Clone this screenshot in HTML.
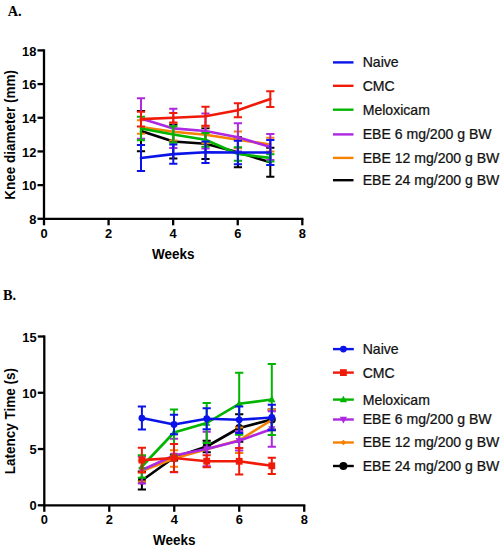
<!DOCTYPE html>
<html><head><meta charset="utf-8"><style>
html,body{margin:0;padding:0;background:#fff;width:500px;height:556px;overflow:hidden}
svg{display:block}
.tk{font-family:"Liberation Sans", sans-serif;font-weight:bold;font-size:12.9px;fill:#000}
.tt{font-family:"Liberation Sans", sans-serif;font-weight:bold;font-size:13.85px;fill:#000}
.lg{font-family:"Liberation Sans", sans-serif;font-size:14px;fill:#111;stroke:#111;stroke-width:0.25px}
.pl{font-family:"Liberation Serif", serif;font-weight:bold;font-size:14.3px;fill:#000}
</style></head><body>
<svg width="500" height="556" viewBox="0 0 500 556">
<rect width="500" height="556" fill="#fff"/>
<line x1="44" y1="49.3" x2="44" y2="219.9" stroke="#000" stroke-width="2.3"/>
<line x1="42.9" y1="218.8" x2="303.4" y2="218.8" stroke="#000" stroke-width="2.3"/>
<line x1="37.5" y1="218.8" x2="44" y2="218.8" stroke="#000" stroke-width="2.3"/>
<text x="36.4" y="223.9" text-anchor="end" class="tk">8</text>
<line x1="37.5" y1="185.12" x2="44" y2="185.12" stroke="#000" stroke-width="2.3"/>
<text x="36.4" y="190.22" text-anchor="end" class="tk">10</text>
<line x1="37.5" y1="151.44" x2="44" y2="151.44" stroke="#000" stroke-width="2.3"/>
<text x="36.4" y="156.54" text-anchor="end" class="tk">12</text>
<line x1="37.5" y1="117.76" x2="44" y2="117.76" stroke="#000" stroke-width="2.3"/>
<text x="36.4" y="122.86" text-anchor="end" class="tk">14</text>
<line x1="37.5" y1="84.08" x2="44" y2="84.08" stroke="#000" stroke-width="2.3"/>
<text x="36.4" y="89.18" text-anchor="end" class="tk">16</text>
<line x1="37.5" y1="50.4" x2="44" y2="50.4" stroke="#000" stroke-width="2.3"/>
<text x="36.4" y="55.5" text-anchor="end" class="tk">18</text>
<line x1="44" y1="218.8" x2="44" y2="225.3" stroke="#000" stroke-width="2.3"/>
<text x="44" y="237.6" text-anchor="middle" class="tk">0</text>
<line x1="108.58" y1="218.8" x2="108.58" y2="225.3" stroke="#000" stroke-width="2.3"/>
<text x="108.58" y="237.6" text-anchor="middle" class="tk">2</text>
<line x1="173.16" y1="218.8" x2="173.16" y2="225.3" stroke="#000" stroke-width="2.3"/>
<text x="173.16" y="237.6" text-anchor="middle" class="tk">4</text>
<line x1="237.74" y1="218.8" x2="237.74" y2="225.3" stroke="#000" stroke-width="2.3"/>
<text x="237.74" y="237.6" text-anchor="middle" class="tk">6</text>
<line x1="302.32" y1="218.8" x2="302.32" y2="225.3" stroke="#000" stroke-width="2.3"/>
<text x="302.32" y="237.6" text-anchor="middle" class="tk">8</text>
<text transform="translate(173.16,258.8) scale(0.975,1)" text-anchor="middle" class="tt">Weeks</text>
<text transform="translate(14.6,134.85) rotate(-90) scale(0.975,1)" text-anchor="middle" class="tt">Knee diameter (mm)</text>
<path d="M141,110.9 V151.3 M136.9,110.9 h8.2 M136.9,151.3 h8.2" stroke="#000000" stroke-width="2" fill="none"/>
<path d="M173.3,124.45 V158.55 M169.2,124.45 h8.2 M169.2,158.55 h8.2" stroke="#000000" stroke-width="2" fill="none"/>
<path d="M205.5,128.35 V159.05 M201.4,128.35 h8.2 M201.4,159.05 h8.2" stroke="#000000" stroke-width="2" fill="none"/>
<path d="M237.9,137.3 V167.3 M233.8,137.3 h8.2 M233.8,167.3 h8.2" stroke="#000000" stroke-width="2" fill="none"/>
<path d="M270.3,147.85 V176.75 M266.2,147.85 h8.2 M266.2,176.75 h8.2" stroke="#000000" stroke-width="2" fill="none"/>
<path d="M141,131.1 L173.3,141.5 L205.5,143.7 L237.9,152.3 L270.3,162.3" stroke="#000000" stroke-width="2.6" fill="none" stroke-linejoin="round" stroke-linecap="round"/>
<path d="M141,120.15 V133.85 M136.9,120.15 h8.2 M136.9,133.85 h8.2" stroke="#f58200" stroke-width="2" fill="none"/>
<path d="M173.3,123 V140.4 M169.2,123 h8.2 M169.2,140.4 h8.2" stroke="#f58200" stroke-width="2" fill="none"/>
<path d="M205.5,126.45 V143.15 M201.4,126.45 h8.2 M201.4,143.15 h8.2" stroke="#f58200" stroke-width="2" fill="none"/>
<path d="M237.9,131.4 V148.2 M233.8,131.4 h8.2 M233.8,148.2 h8.2" stroke="#f58200" stroke-width="2" fill="none"/>
<path d="M270.3,137.75 V151.45 M266.2,137.75 h8.2 M266.2,151.45 h8.2" stroke="#f58200" stroke-width="2" fill="none"/>
<path d="M141,127 L173.3,131.7 L205.5,134.8 L237.9,139.8 L270.3,144.6" stroke="#f58200" stroke-width="2.6" fill="none" stroke-linejoin="round" stroke-linecap="round"/>
<path d="M141,98.25 V138.75 M136.9,98.25 h8.2 M136.9,138.75 h8.2" stroke="#ad28e0" stroke-width="2" fill="none"/>
<path d="M173.3,108.8 V148 M169.2,108.8 h8.2 M169.2,148 h8.2" stroke="#ad28e0" stroke-width="2" fill="none"/>
<path d="M205.5,113.45 V148.55 M201.4,113.45 h8.2 M201.4,148.55 h8.2" stroke="#ad28e0" stroke-width="2" fill="none"/>
<path d="M237.9,123.2 V151.4 M233.8,123.2 h8.2 M233.8,151.4 h8.2" stroke="#ad28e0" stroke-width="2" fill="none"/>
<path d="M270.3,134.05 V159.95 M266.2,134.05 h8.2 M266.2,159.95 h8.2" stroke="#ad28e0" stroke-width="2" fill="none"/>
<path d="M141,118.5 L173.3,128.4 L205.5,131 L237.9,137.3 L270.3,147" stroke="#ad28e0" stroke-width="2.6" fill="none" stroke-linejoin="round" stroke-linecap="round"/>
<path d="M141,116.85 V140.15 M136.9,116.85 h8.2 M136.9,140.15 h8.2" stroke="#00b400" stroke-width="2" fill="none"/>
<path d="M173.3,126.25 V142.75 M169.2,126.25 h8.2 M169.2,142.75 h8.2" stroke="#00b400" stroke-width="2" fill="none"/>
<path d="M205.5,132.95 V146.65 M201.4,132.95 h8.2 M201.4,146.65 h8.2" stroke="#00b400" stroke-width="2" fill="none"/>
<path d="M237.9,147.25 V160.75 M233.8,147.25 h8.2 M233.8,160.75 h8.2" stroke="#00b400" stroke-width="2" fill="none"/>
<path d="M270.3,154.25 V161.55 M266.2,154.25 h8.2 M266.2,161.55 h8.2" stroke="#00b400" stroke-width="2" fill="none"/>
<path d="M141,128.5 L173.3,134.5 L205.5,139.8 L237.9,154 L270.3,157.9" stroke="#00b400" stroke-width="2.6" fill="none" stroke-linejoin="round" stroke-linecap="round"/>
<path d="M141,111.65 V126.55 M136.9,111.65 h8.2 M136.9,126.55 h8.2" stroke="#f01a08" stroke-width="2" fill="none"/>
<path d="M173.3,113 V122.6 M169.2,113 h8.2 M169.2,122.6 h8.2" stroke="#f01a08" stroke-width="2" fill="none"/>
<path d="M205.5,106.7 V125.7 M201.4,106.7 h8.2 M201.4,125.7 h8.2" stroke="#f01a08" stroke-width="2" fill="none"/>
<path d="M237.9,103.2 V117.2 M233.8,103.2 h8.2 M233.8,117.2 h8.2" stroke="#f01a08" stroke-width="2" fill="none"/>
<path d="M270.3,91.2 V107 M266.2,91.2 h8.2 M266.2,107 h8.2" stroke="#f01a08" stroke-width="2" fill="none"/>
<path d="M141,119.1 L173.3,117.8 L205.5,116.2 L237.9,110.2 L270.3,99.1" stroke="#f01a08" stroke-width="2.6" fill="none" stroke-linejoin="round" stroke-linecap="round"/>
<path d="M141,145 V171 M136.9,145 h8.2 M136.9,171 h8.2" stroke="#0a14e8" stroke-width="2" fill="none"/>
<path d="M173.3,144.4 V163.8 M169.2,144.4 h8.2 M169.2,163.8 h8.2" stroke="#0a14e8" stroke-width="2" fill="none"/>
<path d="M205.5,141.5 V163.1 M201.4,141.5 h8.2 M201.4,163.1 h8.2" stroke="#0a14e8" stroke-width="2" fill="none"/>
<path d="M237.9,140.7 V164.3 M233.8,140.7 h8.2 M233.8,164.3 h8.2" stroke="#0a14e8" stroke-width="2" fill="none"/>
<path d="M270.3,139.9 V165.1 M266.2,139.9 h8.2 M266.2,165.1 h8.2" stroke="#0a14e8" stroke-width="2" fill="none"/>
<path d="M141,158 L173.3,154.1 L205.5,152.3 L237.9,152.5 L270.3,152.5" stroke="#0a14e8" stroke-width="2.6" fill="none" stroke-linejoin="round" stroke-linecap="round"/>
<line x1="44.3" y1="335.4" x2="44.3" y2="506.4" stroke="#000" stroke-width="2.3"/>
<line x1="43.2" y1="505.3" x2="305.3" y2="505.3" stroke="#000" stroke-width="2.3"/>
<line x1="37.8" y1="505.3" x2="44.3" y2="505.3" stroke="#000" stroke-width="2.3"/>
<text x="36.7" y="510.4" text-anchor="end" class="tk">0</text>
<line x1="37.8" y1="449.04" x2="44.3" y2="449.04" stroke="#000" stroke-width="2.3"/>
<text x="36.7" y="454.14" text-anchor="end" class="tk">5</text>
<line x1="37.8" y1="392.77" x2="44.3" y2="392.77" stroke="#000" stroke-width="2.3"/>
<text x="36.7" y="397.87" text-anchor="end" class="tk">10</text>
<line x1="37.8" y1="336.5" x2="44.3" y2="336.5" stroke="#000" stroke-width="2.3"/>
<text x="36.7" y="341.61" text-anchor="end" class="tk">15</text>
<line x1="44.3" y1="505.3" x2="44.3" y2="511.8" stroke="#000" stroke-width="2.3"/>
<text x="44.3" y="524" text-anchor="middle" class="tk">0</text>
<line x1="109.28" y1="505.3" x2="109.28" y2="511.8" stroke="#000" stroke-width="2.3"/>
<text x="109.28" y="524" text-anchor="middle" class="tk">2</text>
<line x1="174.26" y1="505.3" x2="174.26" y2="511.8" stroke="#000" stroke-width="2.3"/>
<text x="174.26" y="524" text-anchor="middle" class="tk">4</text>
<line x1="239.24" y1="505.3" x2="239.24" y2="511.8" stroke="#000" stroke-width="2.3"/>
<text x="239.24" y="524" text-anchor="middle" class="tk">6</text>
<line x1="304.22" y1="505.3" x2="304.22" y2="511.8" stroke="#000" stroke-width="2.3"/>
<text x="304.22" y="524" text-anchor="middle" class="tk">8</text>
<text transform="translate(174.26,544.5) scale(0.975,1)" text-anchor="middle" class="tt">Weeks</text>
<text transform="translate(14.6,421.05) rotate(-90) scale(0.975,1)" text-anchor="middle" class="tt">Latency Time (s)</text>
<path d="M141.9,471.4 V489.6 M137.8,471.4 h8.2 M137.8,489.6 h8.2" stroke="#000000" stroke-width="2" fill="none"/>
<path d="M174,454.5 V460.5 M169.9,454.5 h8.2 M169.9,460.5 h8.2" stroke="#000000" stroke-width="2" fill="none"/>
<path d="M206.7,440.75 V452.25 M202.6,440.75 h8.2 M202.6,452.25 h8.2" stroke="#000000" stroke-width="2" fill="none"/>
<path d="M239.2,414.25 V441.75 M235.1,414.25 h8.2 M235.1,441.75 h8.2" stroke="#000000" stroke-width="2" fill="none"/>
<path d="M271.8,409.5 V429.5 M267.7,409.5 h8.2 M267.7,429.5 h8.2" stroke="#000000" stroke-width="2" fill="none"/>
<path d="M141.9,480.5 L174,457.5 L206.7,446.5 L239.2,428 L271.8,419.5" stroke="#000000" stroke-width="2.6" fill="none" stroke-linejoin="round" stroke-linecap="round"/>
<circle cx="141.9" cy="480.5" r="4" fill="#000000"/>
<circle cx="174" cy="457.5" r="4" fill="#000000"/>
<circle cx="206.7" cy="446.5" r="4" fill="#000000"/>
<circle cx="239.2" cy="428" r="4" fill="#000000"/>
<circle cx="271.8" cy="419.5" r="4" fill="#000000"/>
<path d="M141.9,460.6 V481.4 M137.8,460.6 h8.2 M137.8,481.4 h8.2" stroke="#f58200" stroke-width="2" fill="none"/>
<path d="M174,450.3 V466.7 M169.9,450.3 h8.2 M169.9,466.7 h8.2" stroke="#f58200" stroke-width="2" fill="none"/>
<path d="M239.2,427.5 V453.1 M235.1,427.5 h8.2 M235.1,453.1 h8.2" stroke="#f58200" stroke-width="2" fill="none"/>
<path d="M271.8,409.8 V430.2 M267.7,409.8 h8.2 M267.7,430.2 h8.2" stroke="#f58200" stroke-width="2" fill="none"/>
<path d="M141.9,471 L174,458.5 L206.7,449.2 L239.2,440.3 L271.8,420" stroke="#f58200" stroke-width="2.6" fill="none" stroke-linejoin="round" stroke-linecap="round"/>
<path d="M141.9,468.2 L144.7,471 L141.9,473.8 L139.1,471 Z" fill="#f58200"/>
<path d="M174,455.7 L176.8,458.5 L174,461.3 L171.2,458.5 Z" fill="#f58200"/>
<path d="M206.7,446.4 L209.5,449.2 L206.7,452 L203.9,449.2 Z" fill="#f58200"/>
<path d="M239.2,437.5 L242,440.3 L239.2,443.1 L236.4,440.3 Z" fill="#f58200"/>
<path d="M271.8,417.2 L274.6,420 L271.8,422.8 L269,420 Z" fill="#f58200"/>
<path d="M141.9,456.6 V483.4 M137.8,456.6 h8.2 M137.8,483.4 h8.2" stroke="#ad28e0" stroke-width="2" fill="none"/>
<path d="M174,438.7 V472.3 M169.9,438.7 h8.2 M169.9,472.3 h8.2" stroke="#ad28e0" stroke-width="2" fill="none"/>
<path d="M206.7,431.65 V466.15 M202.6,431.65 h8.2 M202.6,466.15 h8.2" stroke="#ad28e0" stroke-width="2" fill="none"/>
<path d="M239.2,430.9 V450.5 M235.1,430.9 h8.2 M235.1,450.5 h8.2" stroke="#ad28e0" stroke-width="2" fill="none"/>
<path d="M271.8,411.35 V446.65 M267.7,411.35 h8.2 M267.7,446.65 h8.2" stroke="#ad28e0" stroke-width="2" fill="none"/>
<path d="M141.9,470 L174,455.5 L206.7,448.9 L239.2,440.7 L271.8,429" stroke="#ad28e0" stroke-width="2.6" fill="none" stroke-linejoin="round" stroke-linecap="round"/>
<path d="M141.9,473.96 L145.5,467.3 L138.3,467.3 Z" fill="#ad28e0"/>
<path d="M174,459.46 L177.6,452.8 L170.4,452.8 Z" fill="#ad28e0"/>
<path d="M206.7,452.86 L210.3,446.2 L203.1,446.2 Z" fill="#ad28e0"/>
<path d="M239.2,444.66 L242.8,438 L235.6,438 Z" fill="#ad28e0"/>
<path d="M271.8,432.96 L275.4,426.3 L268.2,426.3 Z" fill="#ad28e0"/>
<path d="M141.9,455.15 V477.85 M137.8,455.15 h8.2 M137.8,477.85 h8.2" stroke="#00b400" stroke-width="2" fill="none"/>
<path d="M174,409.4 V455.6 M169.9,409.4 h8.2 M169.9,455.6 h8.2" stroke="#00b400" stroke-width="2" fill="none"/>
<path d="M206.7,402.9 V443.1 M202.6,402.9 h8.2 M202.6,443.1 h8.2" stroke="#00b400" stroke-width="2" fill="none"/>
<path d="M239.2,372.8 V434.8 M235.1,372.8 h8.2 M235.1,434.8 h8.2" stroke="#00b400" stroke-width="2" fill="none"/>
<path d="M271.8,364.1 V434.9 M267.7,364.1 h8.2 M267.7,434.9 h8.2" stroke="#00b400" stroke-width="2" fill="none"/>
<path d="M141.9,466.5 L174,432.5 L206.7,423 L239.2,403.8 L271.8,399.5" stroke="#00b400" stroke-width="2.6" fill="none" stroke-linejoin="round" stroke-linecap="round"/>
<path d="M141.9,462.54 L145.5,469.2 L138.3,469.2 Z" fill="#00b400"/>
<path d="M174,428.54 L177.6,435.2 L170.4,435.2 Z" fill="#00b400"/>
<path d="M206.7,419.04 L210.3,425.7 L203.1,425.7 Z" fill="#00b400"/>
<path d="M239.2,399.84 L242.8,406.5 L235.6,406.5 Z" fill="#00b400"/>
<path d="M271.8,395.54 L275.4,402.2 L268.2,402.2 Z" fill="#00b400"/>
<path d="M141.9,447.8 V472.4 M137.8,447.8 h8.2 M137.8,472.4 h8.2" stroke="#f01a08" stroke-width="2" fill="none"/>
<path d="M174,443.9 V472.1 M169.9,443.9 h8.2 M169.9,472.1 h8.2" stroke="#f01a08" stroke-width="2" fill="none"/>
<path d="M206.7,455.2 V467.2 M202.6,455.2 h8.2 M202.6,467.2 h8.2" stroke="#f01a08" stroke-width="2" fill="none"/>
<path d="M239.2,448 V474.6 M235.1,448 h8.2 M235.1,474.6 h8.2" stroke="#f01a08" stroke-width="2" fill="none"/>
<path d="M271.8,457.65 V473.95 M267.7,457.65 h8.2 M267.7,473.95 h8.2" stroke="#f01a08" stroke-width="2" fill="none"/>
<path d="M141.9,460.1 L174,458 L206.7,461.2 L239.2,461.3 L271.8,465.8" stroke="#f01a08" stroke-width="2.6" fill="none" stroke-linejoin="round" stroke-linecap="round"/>
<rect x="138.5" y="456.7" width="6.8" height="6.8" fill="#f01a08"/>
<rect x="170.6" y="454.6" width="6.8" height="6.8" fill="#f01a08"/>
<rect x="203.3" y="457.8" width="6.8" height="6.8" fill="#f01a08"/>
<rect x="235.8" y="457.9" width="6.8" height="6.8" fill="#f01a08"/>
<rect x="268.4" y="462.4" width="6.8" height="6.8" fill="#f01a08"/>
<path d="M141.9,406.6 V429.6 M137.8,406.6 h8.2 M137.8,429.6 h8.2" stroke="#0a14e8" stroke-width="2" fill="none"/>
<path d="M174,414.8 V434.2 M169.9,414.8 h8.2 M169.9,434.2 h8.2" stroke="#0a14e8" stroke-width="2" fill="none"/>
<path d="M206.7,408.15 V429.25 M202.6,408.15 h8.2 M202.6,429.25 h8.2" stroke="#0a14e8" stroke-width="2" fill="none"/>
<path d="M239.2,406.55 V433.05 M235.1,406.55 h8.2 M235.1,433.05 h8.2" stroke="#0a14e8" stroke-width="2" fill="none"/>
<path d="M271.8,404.65 V430.35 M267.7,404.65 h8.2 M267.7,430.35 h8.2" stroke="#0a14e8" stroke-width="2" fill="none"/>
<path d="M141.9,418.1 L174,424.5 L206.7,418.7 L239.2,419.8 L271.8,417.5" stroke="#0a14e8" stroke-width="2.6" fill="none" stroke-linejoin="round" stroke-linecap="round"/>
<circle cx="141.9" cy="418.1" r="3.4" fill="#0a14e8"/>
<circle cx="174" cy="424.5" r="3.4" fill="#0a14e8"/>
<circle cx="206.7" cy="418.7" r="3.4" fill="#0a14e8"/>
<circle cx="239.2" cy="419.8" r="3.4" fill="#0a14e8"/>
<circle cx="271.8" cy="417.5" r="3.4" fill="#0a14e8"/>
<line x1="333" y1="62.4" x2="353.5" y2="62.4" stroke="#0a14e8" stroke-width="2.4"/>
<text transform="translate(362.7,67.3) scale(1.005,1)" class="lg">Naive</text>
<line x1="333" y1="85.8" x2="353.5" y2="85.8" stroke="#f01a08" stroke-width="2.4"/>
<text transform="translate(362.7,90.7) scale(1.005,1)" class="lg">CMC</text>
<line x1="333" y1="109.7" x2="353.5" y2="109.7" stroke="#00b400" stroke-width="2.4"/>
<text transform="translate(362.7,114.6) scale(1.005,1)" class="lg">Meloxicam</text>
<line x1="333" y1="134.4" x2="353.5" y2="134.4" stroke="#ad28e0" stroke-width="2.4"/>
<text transform="translate(362.7,139.3) scale(1.005,1)" class="lg">EBE 6 mg/200 g BW</text>
<line x1="333" y1="157.9" x2="353.5" y2="157.9" stroke="#f58200" stroke-width="2.4"/>
<text transform="translate(362.7,162.8) scale(1.005,1)" class="lg">EBE 12 mg/200 g BW</text>
<line x1="333" y1="180.2" x2="353.5" y2="180.2" stroke="#000000" stroke-width="2.4"/>
<text transform="translate(362.7,185.1) scale(1.005,1)" class="lg">EBE 24 mg/200 g BW</text>
<line x1="333" y1="349.1" x2="353.8" y2="349.1" stroke="#0a14e8" stroke-width="2.4"/>
<circle cx="343.4" cy="349.1" r="3.4" fill="#0a14e8"/>
<text transform="translate(362.7,354) scale(1.005,1)" class="lg">Naive</text>
<line x1="333" y1="372.6" x2="353.8" y2="372.6" stroke="#f01a08" stroke-width="2.4"/>
<rect x="340" y="369.2" width="6.8" height="6.8" fill="#f01a08"/>
<text transform="translate(362.7,377.5) scale(1.005,1)" class="lg">CMC</text>
<line x1="333" y1="399.6" x2="353.8" y2="399.6" stroke="#00b400" stroke-width="2.4"/>
<path d="M343.4,395.64 L347,402.3 L339.8,402.3 Z" fill="#00b400"/>
<text transform="translate(362.7,404.5) scale(1.005,1)" class="lg">Meloxicam</text>
<line x1="333" y1="419.5" x2="353.8" y2="419.5" stroke="#ad28e0" stroke-width="2.4"/>
<path d="M343.4,423.46 L347,416.8 L339.8,416.8 Z" fill="#ad28e0"/>
<text transform="translate(362.7,424.4) scale(1.005,1)" class="lg">EBE 6 mg/200 g BW</text>
<line x1="333" y1="442.5" x2="353.8" y2="442.5" stroke="#f58200" stroke-width="2.4"/>
<path d="M343.4,439.7 L346.2,442.5 L343.4,445.3 L340.6,442.5 Z" fill="#f58200"/>
<text transform="translate(362.7,447.4) scale(1.005,1)" class="lg">EBE 12 mg/200 g BW</text>
<line x1="333" y1="466" x2="353.8" y2="466" stroke="#000000" stroke-width="2.4"/>
<circle cx="343.4" cy="466" r="4" fill="#000000"/>
<text transform="translate(362.7,470.9) scale(1.005,1)" class="lg">EBE 24 mg/200 g BW</text>
<text x="7.8" y="15.9" class="pl">A.</text>
<text x="3" y="299.7" class="pl">B.</text>
</svg>
</body></html>
